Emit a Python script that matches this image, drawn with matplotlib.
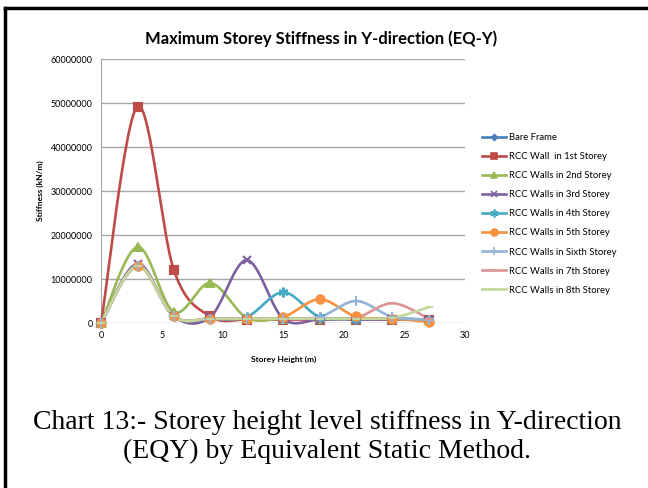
import numpy as np
import matplotlib
matplotlib.use("Agg")
import matplotlib.pyplot as plt
from matplotlib.lines import Line2D

heights = [0, 3, 6, 9, 12, 15, 18, 21, 24, 27]

bare_frame = [0, 13.0e6, 1.5e6, 1.0e6, 1.0e6, 1.0e6, 1.0e6, 1.0e6, 1.0e6, 0.8e6]
wall_1st = [0, 49.2e6, 12.0e6, 1.5e6, 0.8e6, 0.8e6, 0.8e6, 0.8e6, 0.8e6, 0.8e6]
walls_2nd = [0, 17.3e6, 2.5e6, 9.1e6, 1.2e6, 1.0e6, 1.0e6, 1.0e6, 1.0e6, 0.8e6]
walls_3rd = [0, 13.5e6, 1.5e6, 1.4e6, 14.3e6, 1.0e6, 0.8e6, 0.8e6, 0.8e6, 0.8e6]
walls_4th = [0, 13.0e6, 1.5e6, 1.0e6, 1.4e6, 7.0e6, 1.4e6, 1.0e6, 1.0e6, 0.8e6]
walls_5th = [0, 13.0e6, 1.5e6, 1.0e6, 1.0e6, 1.4e6, 5.4e6, 1.5e6, 1.0e6, 0.3e6]
walls_6th = [0, 13.0e6, 1.5e6, 1.0e6, 1.0e6, 1.0e6, 1.4e6, 5.0e6, 1.4e6, 0.8e6]
walls_7th = [0, 13.0e6, 1.5e6, 1.0e6, 1.0e6, 1.0e6, 1.0e6, 1.2e6, 4.5e6, 1.0e6]
walls_8th = [0, 13.0e6, 1.5e6, 1.0e6, 1.0e6, 1.0e6, 1.0e6, 1.0e6, 1.2e6, 3.6e6]

labels = ["Bare Frame", "RCC Wall  in 1st Storey", "RCC Walls in 2nd Storey",
          "RCC Walls in 3rd Storey", "RCC Walls in 4th Storey", "RCC Walls in 5th Storey",
          "RCC Walls in Sixth Storey", "RCC Walls in 7th Storey", "RCC Walls in 8th Storey"]
series = [bare_frame, wall_1st, walls_2nd, walls_3rd, walls_4th, walls_5th,
          walls_6th, walls_7th, walls_8th]
colors = ["#4A7EBB", "#BE4B48", "#98B954", "#7D60A0", "#46AAC5", "#F69240",
          "#95B3D7", "#D99694", "#C3D69B"]
markers = ["D", "s", "^", "x", (6, 2, 0), "o", "+", "_", "_"]
msizes = [4, 6, 6, 6, 7, 6, 7, 6, 6]


def smooth(x, y, n=30):
    # excel-like smoothed line: cubic bezier segments, catmull-rom control points
    x = np.asarray(x, float)
    y = np.asarray(y, float)
    px = np.concatenate([[x[0]], x, [x[-1]]])
    py = np.concatenate([[y[0]], y, [y[-1]]])
    t = np.linspace(0, 1, n)
    xs, ys = [], []
    for i in range(1, len(px) - 2):
        p0 = np.array([px[i], py[i]])
        p3 = np.array([px[i + 1], py[i + 1]])
        c1 = p0 + (p3 - np.array([px[i - 1], py[i - 1]])) / 6
        c2 = p3 - (np.array([px[i + 2], py[i + 2]]) - p0) / 6
        b = ((1 - t) ** 3)[:, None] * p0 + (3 * (1 - t) ** 2 * t)[:, None] * c1 \
            + (3 * (1 - t) * t ** 2)[:, None] * c2 + (t ** 3)[:, None] * p3
        xs.append(b[:, 0])
        ys.append(b[:, 1])
    return np.concatenate(xs), np.concatenate(ys)


fig = plt.figure(figsize=(6.48, 4.88), dpi=100)
ax = fig.add_axes([0.156, 0.338, 0.562, 0.541])

handles = []
for yv, c, m, ms, lab in zip(series, colors, markers, msizes, labels):
    sx, sy = smooth(heights, yv)
    ax.plot(sx, sy, color=c, lw=1.9, solid_capstyle="round", zorder=3, clip_on=False)
    ax.plot(heights, yv, ls="none", marker=m, ms=ms, color=c,
            mec=c, mew=1.5, zorder=4, clip_on=False)
    handles.append(Line2D([], [], color=c, lw=1.9, marker=m, ms=ms - 1, mec=c, mew=1.2))

ax.set_xlim(0, 30)
ax.set_ylim(0, 60e6)
ax.set_xticks(range(0, 31, 5))
ax.set_yticks(np.arange(0, 60e6 + 1, 10e6))
ax.yaxis.set_major_formatter(matplotlib.ticker.FuncFormatter(lambda v, p: f"{int(v)}"))
ax.grid(axis="y", color="#A6A6A6", lw=1)
ax.set_axisbelow(True)
for s in ["top", "right", "bottom"]:
    ax.spines[s].set_visible(False)
ax.spines["left"].set_color("#A6A6A6")
ax.tick_params(length=0, labelsize=6.5, pad=6)
for lbl in ax.get_xticklabels() + ax.get_yticklabels():
    lbl.set_family("Lato")
ax.set_xlabel("Storey Height (m)", fontsize=6, fontweight="bold", family="Lato", labelpad=11)
ax.set_ylabel("Stiffness (kN/m)", fontsize=6, fontweight="bold", family="Lato", labelpad=5)
ax.set_title("Maximum Storey Stiffness in Y-direction (EQ-Y)", fontsize=12,
             fontweight="bold", family="Lato", pad=11, x=0.605)

fig.legend(handles, labels, loc="upper left", bbox_to_anchor=(0.73, 0.745),
           frameon=False, prop={"family": "Lato", "size": 6.8}, labelspacing=1.07,
           handlelength=2.6, handletextpad=0.3)

fig.text(0.505, 0.104, "Chart 13:- Storey height level stiffness in Y-direction\n"
         "(EQY) by Equivalent Static Method.", ha="center", va="center",
         family="Liberation Serif", fontsize=20, linespacing=1.2)

# page frame lines on top and left
fig.add_artist(Line2D([0.008, 1], [0.984, 0.984], color="black", lw=2.5))
fig.add_artist(Line2D([0.008, 0.008], [0, 0.984], color="black", lw=2.5))

fig.savefig("out.png", dpi=100)
